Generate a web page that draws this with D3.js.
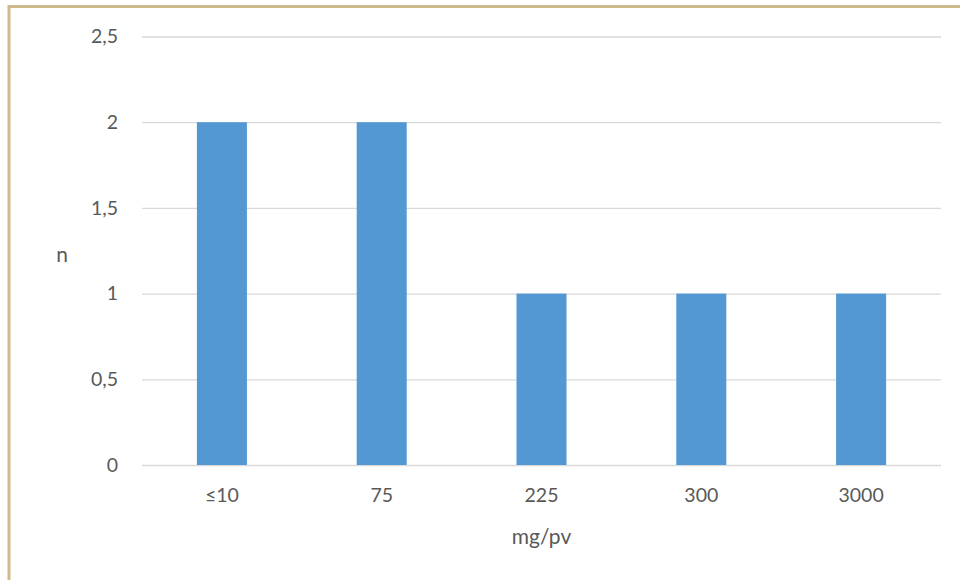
<!DOCTYPE html>
<html>
<head>
<meta charset="utf-8">
<script src="https://cdn.jsdelivr.net/npm/d3@7"></script>
<style>
  html, body { margin: 0; padding: 0; background: #fff; }
  svg { display: block; }
  text { font-family: Lato, "Open Sans", sans-serif; fill: #595959; }
</style>
</head>
<body>
<svg id="chart" width="960" height="580"></svg>
<script>
// Dose groups and number of cases in each
const categories = ["≤10", "75", "225", "300", "3000"];
const counts = [2, 2, 1, 1, 1];
const yTicks = [0, 0.5, 1, 1.5, 2, 2.5];

const svg = d3.select("#chart");
const W = 960, H = 580;
const margin = { left: 142, right: 19, top: 36.5, bottom: 115 };

// Frame around the chart area
svg.append("path")
  .attr("d", `M9,${H + 5} L9,6.5 L${W + 5},6.5`)
  .attr("fill", "none")
  .attr("stroke", "#cfba8c")
  .attr("stroke-width", 3);

const x = d3.scaleBand()
  .domain(categories)
  .range([margin.left, W - margin.right])
  .paddingInner(0.687)
  .paddingOuter(0.3435);

const y = d3.scaleLinear()
  .domain([0, 2.5])
  .range([H - margin.bottom, margin.top]);

const fmt = d => String(d).replace(".", ",");

// Horizontal gridlines with value labels
const yAxis = d3.axisLeft(y)
  .tickValues(yTicks)
  .tickFormat(fmt)
  .tickSize(-(W - margin.left - margin.right))
  .tickPadding(24);

const gy = svg.append("g")
  .attr("transform", `translate(${margin.left},0)`)
  .call(yAxis);
gy.select(".domain").remove();
gy.selectAll(".tick line").attr("stroke", "#d9d9d9").attr("stroke-width", 1.3);
gy.selectAll(".tick text")
  .attr("font-size", 19.5)
  .attr("fill", "#595959")
  .attr("font-family", "Lato, 'Open Sans', sans-serif");

// Bars
svg.append("g")
  .selectAll("rect")
  .data(counts)
  .join("rect")
  .attr("x", (d, i) => x(categories[i]))
  .attr("width", x.bandwidth())
  .attr("y", d => y(d))
  .attr("height", d => y(0) - y(d))
  .attr("fill", "#5398d3");

// Category axis
const xAxis = d3.axisBottom(x).tickSize(0).tickPadding(23);
const gx = svg.append("g")
  .attr("transform", `translate(0,${y(0)})`)
  .call(xAxis);
gx.select(".domain").remove();
gx.selectAll(".tick text")
  .attr("font-size", 19.5)
  .attr("fill", "#595959")
  .attr("font-family", "Lato, 'Open Sans', sans-serif");

// Axis titles
svg.append("text")
  .attr("x", (margin.left + W - margin.right) / 2)
  .attr("y", 544)
  .attr("text-anchor", "middle")
  .attr("font-size", 21)
  .text("mg/pv");

svg.append("text")
  .attr("x", 62)
  .attr("y", 262)
  .attr("text-anchor", "middle")
  .attr("font-size", 21)
  .text("n");
</script>
</body>
</html>
